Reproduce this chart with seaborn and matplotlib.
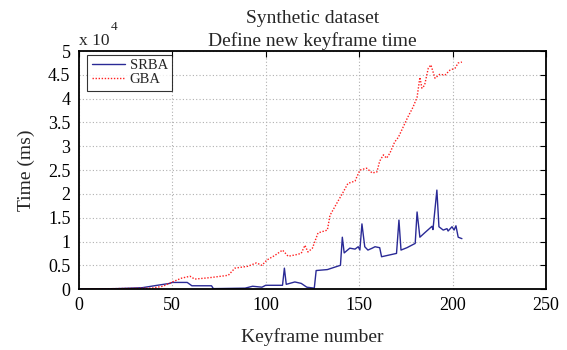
import numpy as np
import pandas as pd
import matplotlib
matplotlib.use("Agg")
import matplotlib.pyplot as plt
import seaborn as sns
from matplotlib.ticker import FuncFormatter, MultipleLocator

# ---- data (time in ms) ----
gba_x = [0, 20, 39, 45, 50, 55, 59.5, 62, 70, 80, 83.5, 90.5, 95, 98, 100.6, 105, 109, 112,
         116, 119, 121, 122.6, 125, 128, 133, 134.4, 138, 141.5, 144, 147.8, 150.4, 154, 157,
         159.5, 161, 163, 164.7, 166.5, 169, 171, 173.5, 176, 178.8, 181, 182.5, 183.6, 185,
         187, 188.4, 190.6, 193, 196, 198.6, 201.3, 203, 205]
gba_y = [0, 100, 200, 600, 1500, 2300, 2700, 2100, 2400, 2900, 4400, 4800, 5500, 5000, 6100,
         7100, 8200, 6900, 7200, 7500, 9200, 7800, 8600, 11800, 12400, 15500, 18000, 20400,
         22200, 22700, 25000, 25400, 24400, 24600, 26900, 28200, 27500, 28600, 30900, 31900,
         34000, 36100, 38200, 40300, 44500, 42200, 42800, 46400, 47100, 44300, 45100, 45000,
         46000, 46400, 47500, 47700]

srba_x = [0, 20, 34, 42, 48.7, 50, 58, 60.5, 71, 72, 89, 93, 98, 100, 109, 110, 111, 115.6,
          119, 122, 126, 127, 133, 140, 141, 142, 145, 147.8, 149.5, 150.4, 151.5, 153, 154.7,
          157, 158.5, 161, 162, 170, 171.3, 172.4, 175.6, 180, 181, 182.5, 185, 189, 189.5,
          191.6, 192.7, 195, 197, 197.6, 199.7, 200.8, 201.8, 203, 205]
srba_y = [0, 100, 300, 800, 1200, 1400, 1400, 700, 700, 100, 200, 600, 400, 800, 800, 4400,
          1000, 1500, 1200, 400, 200, 3900, 4100, 5000, 10900, 7600, 8600, 8400, 8900, 8200,
          13700, 8900, 8200, 8600, 8900, 8700, 6800, 7500, 14500, 8200, 8700, 9600, 16200,
          10900, 11800, 13200, 12500, 20800, 13100, 12400, 12700, 12200, 13100, 12400, 13300,
          10900, 10600]

series_names = ["SRBA", "GBA"]
title_lines = ["Synthetic dataset", "Define new keyframe time"]

df = pd.concat([
    pd.DataFrame({"Keyframe": srba_x, "Time": srba_y, "Method": "SRBA"}),
    pd.DataFrame({"Keyframe": gba_x, "Time": gba_y, "Method": "GBA"}),
])

sns.set_theme(style="white")
plt.rcParams["font.family"] = ["Liberation Serif", "DejaVu Serif"]

fig = plt.figure(figsize=(5.67, 3.5), dpi=100)
ax = fig.add_axes([0.139, 0.174, 0.824, 0.680])

palette = {"SRBA": "#2a2a96", "GBA": "#ff2020"}
sns.lineplot(data=df, x="Keyframe", y="Time", hue="Method", style="Method",
             hue_order=series_names, style_order=series_names,
             dashes={"SRBA": "", "GBA": (1, 1.2)}, palette=palette,
             linewidth=1.0, estimator=None, sort=False, ax=ax, legend=True)

ax.set_xlim(0, 250)
ax.set_ylim(0, 50000)
ax.xaxis.set_major_locator(MultipleLocator(50))
ax.yaxis.set_major_locator(MultipleLocator(5000))
ax.yaxis.set_major_formatter(FuncFormatter(lambda v, p: f"{v/1e4:g}"))

ax.grid(True, color="#b0b0b0", linestyle=(0, (1, 2)), linewidth=0.8)
ax.tick_params(direction="in", length=4, width=0.8, top=True, right=True,
               labelsize=13, colors="black", pad=6)
for s in ax.spines.values():
    s.set_color("black")
    s.set_linewidth(1.3)

ax.set_xlabel("Keyframe number", fontsize=14, labelpad=10)
ax.set_ylabel("Time (ms)", fontsize=14, labelpad=9)
ax.set_title("\n".join(title_lines), fontsize=14, linespacing=1.35, pad=4)

fig.text(0.139, 0.872, "x 10", fontsize=12.5, ha="left", va="baseline")
fig.text(0.195, 0.915, "4", fontsize=9.5, ha="left", va="baseline")

leg = ax.legend(loc="upper left", bbox_to_anchor=(0.018, 0.985), fontsize=10.5,
                frameon=True, fancybox=False, handlelength=2.3, handletextpad=0.3,
                borderpad=0.3, labelspacing=0.05, borderaxespad=0)
leg.get_frame().set_edgecolor("black")
leg.get_frame().set_linewidth(0.8)

fig.savefig("out.png", dpi=100)
